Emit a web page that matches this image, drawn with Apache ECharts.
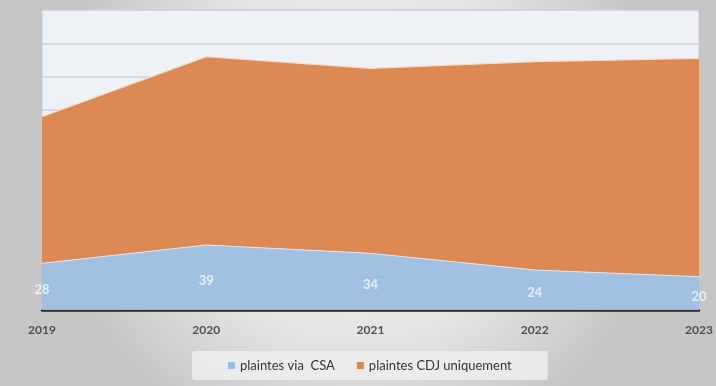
<!DOCTYPE html>
<html>
<head>
<meta charset="utf-8">
<script src="https://cdn.jsdelivr.net/npm/echarts@6/dist/echarts.min.js"></script>
<style>
  html, body { margin: 0; padding: 0; }
  #chart { width: 716px; height: 386px; }
</style>
</head>
<body>
<div id="chart"></div>
<script>
const years = ['2019', '2020', '2021', '2022', '2023']
const viaCsa = [28, 39, 34, 24, 20]
const cdjOnly = [88, 113, 111, 125, 131]
// labels sit halfway up the blue band
const csaLabelPos = viaCsa.map((v, i) => [i, v / 2, v])

const chart = echarts.init(document.getElementById('chart'))

chart.setOption({
  backgroundColor: {
    type: 'radial', x: 0.5, y: 0.4, r: 0.8,
    colorStops: [
      { offset: 0, color: '#f5f5f5' },
      { offset: 0.6, color: '#e4e4e4' },
      { offset: 1, color: '#c6c6c6' }
    ]
  },
  textStyle: { fontFamily: 'Lato' },
  grid: {
    left: 42, right: 17, top: 10, bottom: 76,
    show: true,
    backgroundColor: '#eef2f7',
    borderColor: '#b8cce2',
    borderWidth: 1
  },
  legend: {
    bottom: 6,
    left: 192,
    icon: 'rect',
    itemWidth: 7,
    itemHeight: 7,
    itemGap: 22,
    padding: [8, 36],
    backgroundColor: 'rgba(238,238,238,0.85)',
    borderRadius: 3,
    textStyle: { fontSize: 13, color: '#353535' },
    data: ['plaintes via  CSA', 'plaintes CDJ uniquement']
  },
  xAxis: {
    type: 'category',
    data: years,
    boundaryGap: false,
    axisLine: { lineStyle: { color: '#2a2a2a', width: 2.5 } },
    axisTick: { show: false },
    axisLabel: { color: '#505050', fontSize: 12, fontWeight: 'bold', margin: 14 }
  },
  yAxis: {
    type: 'value',
    min: 0,
    max: 180,
    interval: 20,
    axisLabel: { show: false },
    axisLine: { show: false },
    axisTick: { show: false },
    splitLine: { lineStyle: { color: '#cbd2dc', width: 1.5 } }
  },
  series: [
    {
      name: 'plaintes via  CSA',
      type: 'line',
      stack: 'total',
      data: viaCsa,
      symbol: 'none',
      itemStyle: { color: '#9dbddf' },
      lineStyle: { color: '#dbe6f2', width: 1 },
      areaStyle: { color: '#9dbddf', opacity: 0.95 },
      z: 3
    },
    {
      name: 'plaintes CDJ uniquement',
      type: 'line',
      stack: 'total',
      data: cdjOnly,
      symbol: 'none',
      itemStyle: { color: '#dc8954' },
      lineStyle: { color: '#f7dcc4', width: 1.2 },
      areaStyle: { color: '#dc8954', opacity: 1 },
      z: 2
    },
    {
      type: 'scatter',
      data: csaLabelPos,
      symbolSize: 0,
      silent: true,
      z: 5,
      label: {
        show: true,
        position: 'inside',
        offset: [0, 3],
        color: 'rgba(255,255,255,0.92)',
        fontSize: 13,
        fontWeight: 'bold',
        formatter: p => p.value[2]
      }
    }
  ]
})
</script>
</body>
</html>
